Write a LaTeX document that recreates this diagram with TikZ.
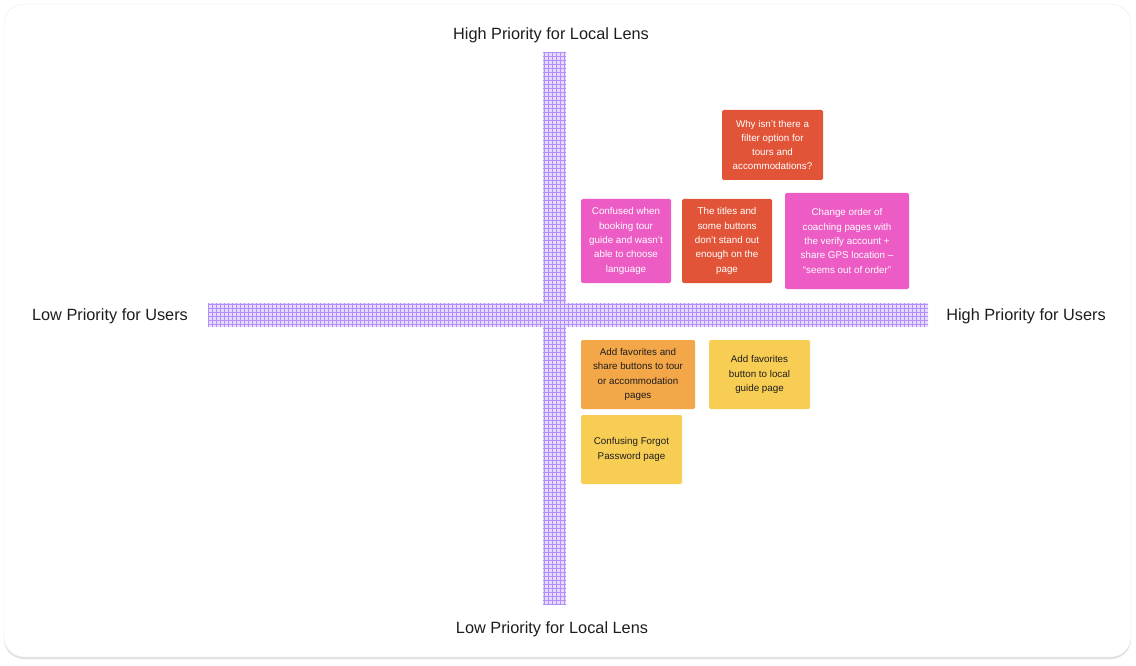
\documentclass[tikz,border=0pt]{standalone}
\usepackage{fontspec}
\setmainfont{Liberation Sans}
\usetikzlibrary{shadows}
\definecolor{noteRed}{RGB}{226,84,56}
\definecolor{notePink}{RGB}{236,92,196}
\definecolor{noteOrange}{RGB}{243,167,72}
\definecolor{noteYellow}{RGB}{248,205,84}
\definecolor{tapeFill}{RGB}{230,218,253}
\definecolor{tapeLine}{RGB}{160,112,248}
\definecolor{labelInk}{RGB}{30,30,30}

\begin{document}
\begin{tikzpicture}
            [
            x=1pt,y=-1pt,
            frame/.style={draw=black!8,fill=white,rounded corners=20pt,
                drop shadow={shadow xshift=0pt,shadow yshift=-2pt,opacity=0.25}},
            axislabel/.style={font={\fontsize{16.3}{19}\selectfont},text=labelInk},
            note/.style={rounded corners=1.5pt,align=center,inner sep=0pt,
                font={\fontsize{9.8}{14.3}\selectfont}},
            hotnote/.style={note,fill=#1,text=white},
            warmnote/.style={note,fill=#1,text=labelInk},
            ]
            \useasboundingbox (0,0) rectangle (1136,666);
            % Frame
            \path[frame] (4,4) rectangle (1131,657);

            % Tapes
            \fill[tapeFill] (543,52) rectangle (566,605);
            \fill[tapeFill] (208,303) rectangle (928,327);
            \begin{scope}
                \clip (543,52) rectangle (566,605) (208,303) rectangle (928,327);
                \draw[tapeLine,line width=0.6pt,opacity=0.7,step=4pt] (200,50) grid (930,606);
            \end{scope}

            % Notes, upper half
            \node[hotnote=noteRed,minimum width=101,minimum height=70] (why) at (772.5,145)
                {Why isn't there a\\filter option for\\tours and\\accommodations?};
            \node[hotnote=notePink,minimum width=90,minimum height=84] (confused) at (626,241)
                {Confused when\\booking tour\\guide and wasn't\\able to choose\\language};
            \node[hotnote=noteRed,minimum width=90,minimum height=84] (titles) at (727,241)
                {The titles and\\some buttons\\don't stand out\\enough on the\\page};
            \node[hotnote=notePink,minimum width=124,minimum height=96] (coaching) at (847,241)
                {Change order of\\coaching pages with\\the verify account +\\share GPS location --\\``seems out of order''};

            % Notes, lower half
            \node[warmnote=noteOrange,minimum width=114,minimum height=69] (favshare) at (638,374.5)
                {Add favorites and\\share buttons to tour\\or accommodation\\pages};
            \node[warmnote=noteYellow,minimum width=101,minimum height=69] (favlocal) at (759.5,374.5)
                {Add favorites\\button to local\\guide page};
            \node[warmnote=noteYellow,minimum width=101,minimum height=69] (forgot) at (631.5,449.5)
                {Confusing Forgot\\Password page};

            % Axis labels
            \node[axislabel] (highlens) at (551,35.5) {High Priority for Local Lens};
            \node[axislabel] (lowlens) at (552,629.5) {Low Priority for Local Lens};
            \node[axislabel] (lowusers) at (110,316.5) {Low Priority for Users};
            \node[axislabel] (highusers) at (1026,316.5) {High Priority for Users};
        \end{tikzpicture}
\end{document}
